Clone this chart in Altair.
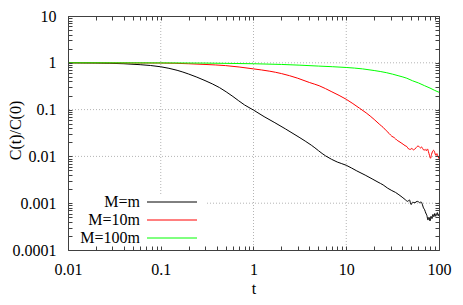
import altair as alt
import pandas as pd

# ---- data (t, log10 of C(t)/C(0)) ----
series_names = ["M=m", "M=10m", "M=100m"]
series_colors = ["#000000", "#ff0000", "#00ff00"]

t_m = [0.01, 0.02, 0.04, 0.06, 0.1, 0.15, 0.2, 0.3, 0.43, 0.6, 0.8, 1.0, 1.3, 1.7, 2.2,
       3.1, 4.2, 6.0, 8.0, 10, 13, 16, 19, 22, 25, 28, 31, 34, 37, 40, 43, 46, 48, 50,
       52, 55, 58, 60, 62, 64, 66, 68, 70, 72, 74, 76, 78, 80, 82, 84, 86, 88, 90, 92,
       94, 96, 98, 100]
logc_m = [0, -0.005, -0.02, -0.04, -0.085, -0.16, -0.24, -0.38, -0.53, -0.72, -0.9, -1.01,
          -1.15, -1.28, -1.41, -1.59, -1.76, -1.99, -2.12, -2.19, -2.31, -2.40, -2.48,
          -2.55, -2.61, -2.68, -2.73, -2.77, -2.82, -2.87, -2.92, -2.96, -2.93, -3.03,
          -2.98, -2.99, -2.96, -2.97, -2.99, -2.97, -3.02, -3.10, -3.14, -3.21, -3.26,
          -3.36, -3.30, -3.38, -3.28, -3.33, -3.24, -3.29, -3.22, -3.28, -3.24, -3.20,
          -3.27, -3.24]

t_10m = [0.01, 0.1, 0.2, 0.3, 0.5, 0.7, 1.0, 1.5, 2.0, 3.0, 4.0, 5.1, 7.0, 10, 13.9, 16.4,
         20, 23, 25, 27, 29, 31, 33, 35, 37, 39, 41, 43, 45, 47, 49, 51, 53, 55, 57, 59,
         61, 63, 65, 67, 69, 71, 73, 75, 77, 79, 81, 83, 85, 87, 89, 91, 93, 95, 97, 100]
logc_10m = [0, -0.005, -0.02, -0.035, -0.06, -0.09, -0.13, -0.18, -0.23, -0.33, -0.42,
            -0.49, -0.62, -0.78, -0.97, -1.07, -1.21, -1.32, -1.38, -1.45, -1.51, -1.57,
            -1.60, -1.65, -1.68, -1.71, -1.74, -1.77, -1.79, -1.84, -1.85, -1.83, -1.86,
            -1.84, -1.81, -1.78, -1.79, -1.82, -1.80, -1.84, -1.87, -1.85, -1.88, -1.84,
            -1.90, -1.98, -2.04, -1.96, -1.90, -1.87, -1.89, -1.95, -1.98, -1.94, -1.99,
            -2.05]

t_100m = [0.01, 0.1, 0.3, 1, 2, 3.1, 5, 10, 15, 20, 27, 37, 45, 52, 60, 70, 80, 90, 100]
logc_100m = [0, -0.002, -0.006, -0.02, -0.035, -0.05, -0.07, -0.10, -0.13, -0.165, -0.21,
             -0.28, -0.33, -0.385, -0.43, -0.49, -0.54, -0.59, -0.63]

x_major = [0.01, 0.1, 1, 10, 100]
y_major = [0.0001, 0.001, 0.01, 0.1, 1, 10]
x_grid = [0.1, 1, 10]
y_grid = [0.001, 0.01, 0.1, 1]

rows = []
for name, ts, ls in zip(series_names, [t_m, t_10m, t_100m], [logc_m, logc_10m, logc_100m]):
    for t, l in zip(ts, ls):
        rows.append({"series": name, "t": t, "C": 10 ** l})
df = pd.DataFrame(rows)

x_ticks = sorted(set([m * k for m in x_major[:-1] for k in range(1, 10)] + [x_major[-1]]))
y_ticks = sorted(set([m * k for m in y_major[:-1] for k in range(1, 10)] + [y_major[-1]]))

W, H = 371, 234
FONT = "Liberation Serif"
FS = 16
AXC = "#404040"
GRIDC = "#b4b4b4"

xscale = alt.Scale(type="log", domain=[0.01, 100], nice=False)
yscale = alt.Scale(type="log", domain=[0.0001, 10], nice=False)
cscale = alt.Scale(domain=series_names, range=series_colors)

label_expr = ("abs(log(datum.value)/LN10 - round(log(datum.value)/LN10)) < 0.001 "
              "? format(datum.value, '~g') : ''")
inward = {"expr": "-4"}

gx = alt.Chart(pd.DataFrame({"t": x_grid})).mark_rule(
    color=GRIDC, strokeDash=[1, 2], strokeWidth=1
).encode(x=alt.X("t:Q", scale=xscale, axis=None))

gy = alt.Chart(pd.DataFrame({"C": y_grid})).mark_rule(
    color=GRIDC, strokeDash=[1, 2], strokeWidth=1
).encode(y=alt.Y("C:Q", scale=yscale, axis=None))

lines = alt.Chart(df).mark_line(strokeWidth=1, interpolate="monotone").encode(
    x=alt.X("t:Q", scale=xscale, axis=alt.Axis(
        values=x_ticks, labelExpr=label_expr, tickSize=inward, labelPadding=15,
        labelFlush=False, labelOverlap=False, grid=False, title="t",
        titleY=38, titleBaseline="middle", zindex=1)),
    y=alt.Y("C:Q", scale=yscale, axis=alt.Axis(
        values=y_ticks, labelExpr=label_expr, tickSize=inward, labelPadding=16,
        labelOverlap=False, labelFlush=False, grid=False, title="C(t)/C(0)",
        titleX=-53, titleY=114, titleAngle=270, titleBaseline="middle", zindex=1)),
    color=alt.Color("series:N", scale=cscale, legend=None),
)

mirror = alt.Chart(df).mark_line(opacity=0).encode(
    x=alt.X("t:Q", scale=xscale, axis=alt.Axis(
        orient="top", values=x_ticks, labels=False, tickSize=inward, grid=False,
        title="", zindex=1)),
    y=alt.Y("C:Q", scale=yscale, axis=alt.Axis(
        orient="right", values=y_ticks, labels=False, tickSize=inward, grid=False,
        title="", zindex=1)),
    detail="series:N",
)

legend_df = pd.DataFrame({"series": series_names, "row": [0, 1, 2]})

legend_box = alt.Chart(pd.DataFrame({"a": [0]})).mark_rect(fill="white").encode(
    x=alt.value(1), x2=alt.value(139), y=alt.value(178), y2=alt.value(233)
)

legend_text = alt.Chart(legend_df).transform_calculate(
    py="186 + 18 * datum.row"
).mark_text(align="right", baseline="middle", font=FONT, fontSize=FS, color="black").encode(
    x=alt.value(72),
    y=alt.Y("py:Q", scale=None, axis=None),
    text="series:N",
)

legend_lines = alt.Chart(legend_df).transform_calculate(
    py="186 + 18 * datum.row"
).mark_rule(strokeWidth=1).encode(
    x=alt.value(79), x2=alt.value(129),
    y=alt.Y("py:Q", scale=None, axis=None),
    color=alt.Color("series:N", scale=cscale, legend=None),
)

chart = alt.layer(
    gx, gy, lines, legend_box, legend_text, legend_lines, mirror
).resolve_axis(
    x="independent", y="independent"
).properties(
    width=W, height=H,
    padding={"left": 60, "top": 8, "right": 16, "bottom": 47},
    autosize=alt.AutoSizeParams(type="none"),
).configure_view(
    stroke="transparent"
).configure_axis(
    labelFont=FONT, titleFont=FONT, labelFontSize=FS, titleFontSize=FS,
    titleFontWeight="normal", labelColor="black", titleColor="black",
    tickColor=AXC, domainColor=AXC, domainWidth=1, tickWidth=1,
)

chart.save("out.html", embed_options={"renderer": "svg", "actions": False})
